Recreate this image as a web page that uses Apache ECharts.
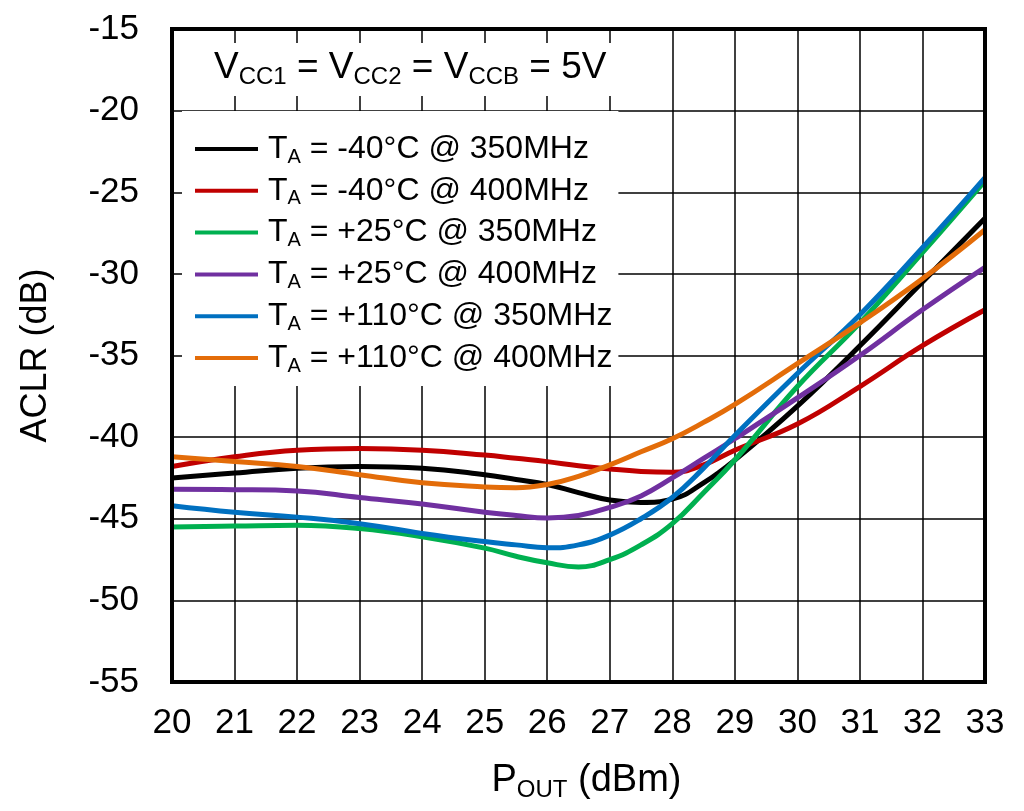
<!DOCTYPE html>
<html><head><meta charset="utf-8">
<script src="https://cdn.jsdelivr.net/npm/echarts@6/dist/echarts.min.js"></script>
<style>html,body{margin:0;padding:0;background:#fff}#c{width:1024px;height:811px}</style>
</head><body><div id="c"></div>
<script>
var xs = [20,21,22,23,24,25,25.5,26,26.5,27,27.5,28,28.5,29,30,31,32,33];
var names = ['-40°C @ 350MHz','-40°C @ 400MHz','+25°C @ 350MHz','+25°C @ 400MHz','+110°C @ 350MHz','+110°C @ 400MHz'];
var colors = ['#000000','#C00000','#00B050','#7030A0','#0070C0','#E36C09'];
var m40_350 = [-42.5,-42.2,-41.9,-41.8,-41.9,-42.3,-42.6,-42.9,-43.4,-43.85,-44.0,-43.8,-42.8,-41.4,-38.1,-34.4,-30.5,-26.6];
var m40_400 = [-41.8,-41.2,-40.8,-40.7,-40.8,-41.1,-41.3,-41.5,-41.75,-41.95,-42.1,-42.15,-41.7,-40.8,-39.2,-36.9,-34.4,-32.2];
var p25_350 = [-45.5,-45.45,-45.4,-45.6,-46.1,-46.8,-47.3,-47.7,-47.95,-47.5,-46.6,-45.3,-43.4,-41.4,-36.9,-33.0,-28.7,-24.3];
var p25_400 = [-43.2,-43.22,-43.3,-43.7,-44.1,-44.6,-44.8,-44.95,-44.8,-44.3,-43.6,-42.5,-41.3,-40.1,-37.6,-35.0,-32.2,-29.6];
var p110_350 = [-44.2,-44.6,-44.9,-45.3,-45.9,-46.4,-46.6,-46.78,-46.6,-46.0,-45.0,-43.7,-41.9,-39.9,-36.1,-32.5,-28.4,-24.1];
var p110_400 = [-41.2,-41.5,-41.8,-42.3,-42.8,-43.05,-43.1,-42.9,-42.4,-41.7,-40.9,-40.1,-39.1,-38.0,-35.5,-33.0,-30.3,-27.3];
var allVals = [m40_350, m40_400, p25_350, p25_400, p110_350, p110_400];
var xTicks = {min:20, max:33, interval:1};
var yTicks = {min:-55, max:-15, interval:5};

var FF = "'Liberation Sans', Arial, sans-serif";
var chart = echarts.init(document.getElementById('c'));
var series = names.map(function(n,i){
  return {
    name: n, type:'line', smooth:0.45, symbol:'none', showSymbol:false,
    lineStyle:{color:colors[i], width:5}, itemStyle:{color:colors[i]},
    data: xs.map(function(x,j){return [x, allVals[i][j]];}),
    z: 3
  };
});
chart.setOption({
  animation:false,
  backgroundColor:'#fff',
  textStyle:{fontFamily:FF},
  title:{
    text:'V{s|CC1} = V{s|CC2} = V{s|CCB} = 5V',
    left:176, top:43,
    backgroundColor:'#fff',
    padding:[3,6,6,38],
    textStyle:{fontFamily:FF, fontSize:37, fontWeight:'normal', color:'#000', lineHeight:44,
      rich:{s:{fontFamily:FF, fontSize:24, color:'#000', padding:[18,0,0,0], lineHeight:44}}}
  },
  legend:{
    orient:'vertical', left:182, top:111,
    backgroundColor:'#fff',
    padding:[20,6,10,13],
    itemWidth:63, itemHeight:14, itemGap:5.8,
    icon:'path://M0,0 L63,0 L63,4 L0,4 Z',
    data: names,
    formatter:function(n){return '{p|}T{s|A} = '+n;},
    textStyle:{fontFamily:FF, fontSize:32, color:'#000', lineHeight:30,
      rich:{p:{width:5}, s:{fontFamily:FF, fontSize:20, color:'#000', padding:[16,0,0,0], lineHeight:30}}}
  },
  grid:{left:172, right:39, top:29, bottom:129, show:true, borderColor:'#000', borderWidth:4, z:5},
  xAxis:{
    type:'value', min:xTicks.min, max:xTicks.max, interval:xTicks.interval,
    axisLine:{show:false}, axisTick:{show:false},
    splitLine:{show:true, lineStyle:{color:'#000', width:1.5}},
    axisLabel:{fontFamily:FF, fontSize:35, color:'#000', margin:24},
    name:'P{s|OUT} (dBm)', nameLocation:'middle', nameGap:78,
    nameTextStyle:{fontFamily:FF, fontSize:38, color:'#000', padding:[0,0,0,16],
      rich:{s:{fontFamily:FF, fontSize:24, color:'#000', padding:[18,0,0,0]}}}
  },
  yAxis:{
    type:'value', min:yTicks.min, max:yTicks.max, interval:yTicks.interval,
    axisLine:{show:false}, axisTick:{show:false},
    splitLine:{show:true, lineStyle:{color:'#000', width:1.5}},
    axisLabel:{fontFamily:FF, fontSize:35, color:'#000', margin:33},
    name:'ACLR (dB)', nameLocation:'middle', nameGap:118, nameRotate:90,
    nameTextStyle:{fontFamily:FF, fontSize:36, color:'#000'}
  },
  series: series
});
</script></body></html>
